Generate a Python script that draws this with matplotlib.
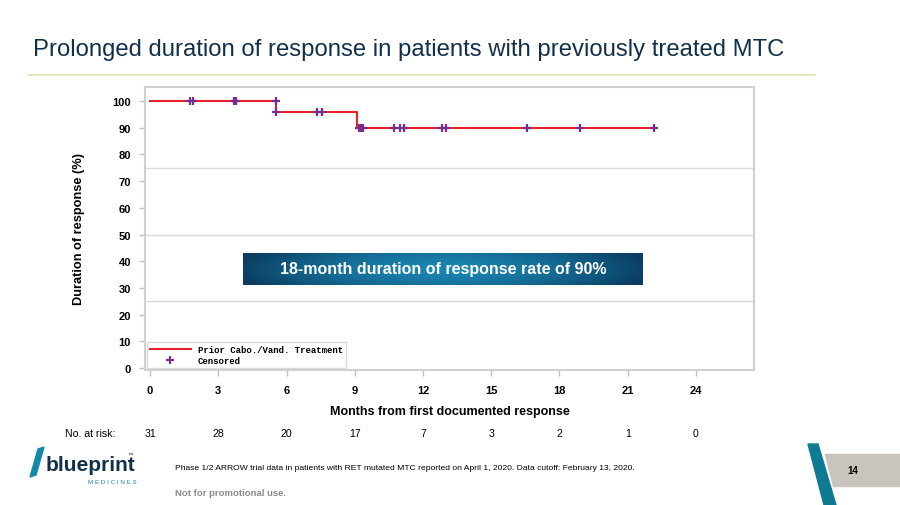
import matplotlib.pyplot as plt
import numpy as np
from matplotlib.transforms import blended_transform_factory
from matplotlib.lines import Line2D
from matplotlib.patches import Polygon

plt.rcParams['font.family'] = ['Liberation Sans', 'DejaVu Sans']

# Kaplan-Meier step data (months, % in response)
step_times = [0, 5.53, 9.12, 22.15]
step_surv = [100, 95.8, 90, 90]

# censored observations
cens_times = [1.78, 1.88, 3.68, 3.78, 5.53, 5.53, 7.34, 7.58, 9.2, 9.27, 9.36,
              10.73, 10.99, 11.16, 12.84, 12.99, 16.57, 18.9, 22.15]
cens_surv = [100, 100, 100, 100, 100, 95.8, 95.8, 95.8, 90, 90, 90,
             90, 90, 90, 90, 90, 90, 90, 90]

x_ticks = [0, 3, 6, 9, 12, 15, 18, 21, 24]
y_ticks = [0, 10, 20, 30, 40, 50, 60, 70, 80, 90, 100]
at_risk = [31, 28, 20, 17, 7, 3, 2, 1, 0]

fig = plt.figure(figsize=(9, 5.06), dpi=100)
fig.patch.set_facecolor('white')

# title and rule
fig.text(33 / 900, 1 - 50 / 506, 'Prolonged duration of response in patients with previously treated MTC',
         fontsize=17.2, color='#13304a', va='center', ha='left')
fig.add_artist(Line2D([28 / 900, 815 / 900], [1 - 76 / 506] * 2, color='#d6e6b2', lw=1.2))

ax = fig.add_axes([145 / 900, 1 - 371 / 506, 609 / 900, 283 / 506])
ax.set_xlim(-0.22, 26.55)
ax.set_ylim(-0.7, 105.2)

for g in [25, 50, 75]:
    ax.axhline(g, color='#d9d9d9', lw=1, zorder=0)

ax.step(step_times, step_surv, where='post', color='#e8212b', lw=1.5, zorder=2)
ax.plot(cens_times, cens_surv, ls='none', marker='+', ms=6, mew=1.6, color='#7b2d8e', zorder=3)

ax.set_xticks(x_ticks)
ax.set_yticks(y_ticks)
ax.tick_params(axis='both', labelsize=8, color='#bfbfbf', length=4, width=1)
ax.tick_params(axis='y', pad=6)
for lab in ax.get_xticklabels() + ax.get_yticklabels():
    lab.set_fontweight('bold')
ax.tick_params(axis='x', pad=7)
for s in ax.spines.values():
    s.set_color('#d0d0d0')
    s.set_linewidth(1.5)

ax.set_xlabel('Months from first documented response', fontsize=9, fontweight='bold', labelpad=7)
ax.set_ylabel('Duration of response (%)', fontsize=9.2, fontweight='bold', labelpad=20)

handles = [Line2D([], [], color='#e8212b', lw=1.5),
           Line2D([], [], ls='none', marker='+', ms=6, mew=1.6, color='#7b2d8e')]
leg = ax.legend(handles, ['Prior Cabo./Vand. Treatment', 'Censored'], loc='lower left',
                prop={'family': 'Liberation Mono', 'weight': 'bold', 'size': 6.5},
                frameon=True, fancybox=False, edgecolor='#d0d0d0', handlelength=4.5,
                borderaxespad=0.25, labelspacing=0.25, borderpad=0.3)
leg.get_frame().set_linewidth(1)

# number at risk row
tr = blended_transform_factory(ax.transData, fig.transFigure)
fig.text(65 / 900, 1 - 434 / 506, 'No. at risk:', fontsize=7.6, va='center', ha='left')
for xv, n in zip(x_ticks, at_risk):
    ax.text(xv, 1 - 434 / 506, str(n), transform=tr, fontsize=7.6, ha='center', va='center')

# callout box with gradient
cax = fig.add_axes([243 / 900, 1 - 286 / 506, 400 / 900, 32 / 506])
xx = np.linspace(-1, 1, 200)
yy = np.linspace(-1, 1, 40)
X, Y = np.meshgrid(xx, yy)
R = np.clip(np.sqrt((X / 1.05) ** 2 + (Y / 2.2) ** 2), 0, 1) ** 1.6
c0 = np.array([0x1a, 0x86, 0xb2]) / 255
c1 = np.array([0x0b, 0x3c, 0x60]) / 255
img = c0[None, None, :] * (1 - R[..., None]) + c1[None, None, :] * R[..., None]
cax.imshow(img, aspect='auto', extent=[0, 1, 0, 1])
cax.set_axis_off()
cax.text(0.5, 0.5, '18-month duration of response rate of 90%', color='white', fontsize=11.5,
         fontweight='bold', ha='center', va='center', transform=cax.transAxes)

# footer
fig.text(175 / 900, 1 - 469 / 506,
         'Phase 1/2 ARROW trial data in patients with RET mutated MTC reported on April 1, 2020. Data cutoff: February 13, 2020.',
         fontsize=6.1, ha='left', va='center')
fig.text(175 / 900, 1 - 494 / 506, 'Not for promotional use.', fontsize=6.8, color='#8c8c8c',
         fontweight='bold', ha='left', va='center')

# logo as text
fig.text(46 / 900, 1 - 466 / 506, 'blueprint', fontsize=15, fontweight='bold', color='#13304a',
         ha='left', va='center')
fig.text(88 / 900, 1 - 483 / 506, 'M E D I C I N E S', fontsize=4.5, color='#138aa6',
         ha='left', va='center')
fig.text(128 / 900, 1 - 455 / 506, '™', fontsize=4, color='#13304a', ha='left', va='center')
fig.add_artist(Polygon([[30 / 900, 1 - 478 / 506], [38 / 900, 1 - 450 / 506], [44 / 900, 1 - 448 / 506],
                        [36 / 900, 1 - 476 / 506]], closed=True, color='#138aa6', transform=fig.transFigure))

# page number shape
fig.add_artist(Polygon([[808 / 900, 1 - 445 / 506], [818 / 900, 1 - 445 / 506], [836 / 900, 1 - 506 / 506],
                        [824 / 900, 1 - 506 / 506]], closed=True, color='#0e7b93', transform=fig.transFigure))
fig.add_artist(Polygon([[825 / 900, 1 - 455 / 506], [900 / 900, 1 - 455 / 506], [900 / 900, 1 - 487 / 506],
                        [833 / 900, 1 - 487 / 506]], closed=True, color='#c9c5bd', transform=fig.transFigure))
fig.text(853 / 900, 1 - 471 / 506, '14', fontsize=7, fontweight='bold', ha='center', va='center')

fig.savefig('out.png', dpi=100)
